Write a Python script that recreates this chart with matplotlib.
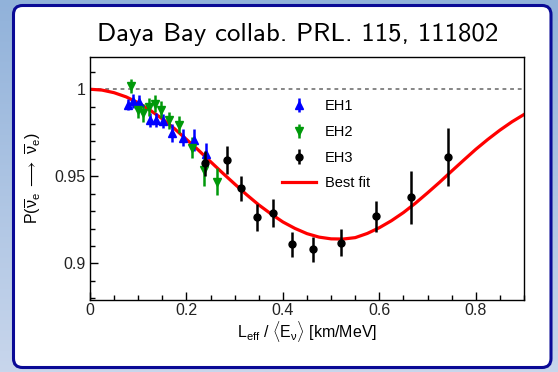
import numpy as np
import matplotlib
matplotlib.use('Agg')
import matplotlib.pyplot as plt
from matplotlib.patches import FancyBboxPatch
from matplotlib.ticker import MultipleLocator, FuncFormatter

plt.rcParams['font.family'] = ['Liberation Sans', 'DejaVu Sans']
plt.rcParams['mathtext.fontset'] = 'custom'
plt.rcParams['mathtext.rm'] = 'Liberation Sans'
plt.rcParams['mathtext.it'] = 'Liberation Sans:italic'

# EH1 (blue)
eh1_x = [0.078, 0.090, 0.102, 0.1245, 0.137, 0.151, 0.1695, 0.1936, 0.2164, 0.241]
eh1_y = [0.9912, 0.9933, 0.9927, 0.9822, 0.9826, 0.9816, 0.9749, 0.9722, 0.9707, 0.9626]
eh1_err = [0.003, 0.004, 0.004, 0.004, 0.004, 0.004, 0.005, 0.005, 0.0064, 0.0065]

# EH2 (green)
eh2_x = [0.0844, 0.100, 0.1106, 0.123, 0.135, 0.147, 0.1645, 0.1846, 0.211, 0.2355, 0.263]
eh2_y = [1.0017, 0.9883, 0.9864, 0.9898, 0.9918, 0.9883, 0.9822, 0.9797, 0.9665, 0.9534, 0.947]
eh2_err = [0.004, 0.005, 0.005, 0.005, 0.005, 0.005, 0.005, 0.005, 0.006, 0.009, 0.008]

# EH3 (black)
eh3_x = [0.2386, 0.284, 0.313, 0.346, 0.380, 0.419, 0.463, 0.521, 0.593, 0.666, 0.743]
eh3_y = [0.9575, 0.9592, 0.9431, 0.9264, 0.9287, 0.9109, 0.908, 0.912, 0.927, 0.938, 0.961]
eh3_err = [0.0072, 0.008, 0.007, 0.0077, 0.008, 0.0072, 0.0072, 0.0077, 0.009, 0.0153, 0.0168]

# best fit curve
fit_x = [0, 0.025, 0.05, 0.075, 0.1, 0.125, 0.15, 0.175, 0.2, 0.225, 0.25, 0.275,
         0.3, 0.325, 0.35, 0.375, 0.4, 0.425, 0.45, 0.475, 0.5, 0.525, 0.55, 0.575,
         0.6, 0.625, 0.65, 0.675, 0.7, 0.725, 0.75, 0.775, 0.8, 0.825, 0.85, 0.875, 0.9]
fit_y = [1.0, 0.9995, 0.998, 0.9956, 0.9922, 0.9879, 0.983, 0.9774, 0.9712, 0.965,
         0.9584, 0.9519, 0.9456, 0.9394, 0.9336, 0.9285, 0.9238, 0.9201, 0.9171, 0.9151,
         0.9141, 0.914, 0.9148, 0.9172, 0.9205, 0.9245, 0.9292, 0.9346, 0.9405, 0.9466,
         0.953, 0.9593, 0.9655, 0.9712, 0.9765, 0.9813, 0.9855]

fig = plt.figure(figsize=(5.58, 3.72), dpi=100)

# beamer-like background
bg = fig.add_axes([0, 0, 1, 1])
grad = np.linspace(0, 1, 256).reshape(-1, 1)
top_c = np.array([145, 178, 218]) / 255
bot_c = np.array([200, 214, 236]) / 255
img = top_c + (bot_c - top_c) * grad[:, :, None]
bg.imshow(img, aspect='auto', extent=[0, 558, 372, 0])
bg.add_patch(FancyBboxPatch((13.5, 5.5), 537.5, 362, boxstyle='round,pad=0,rounding_size=9',
                            facecolor='white', edgecolor='#0a0a96', linewidth=2.2))
bg.set_xlim(0, 558)
bg.set_ylim(372, 0)
bg.axis('off')

fig.text(0.533, 0.906, 'Daya Bay collab. PRL. 115, 111802', family='cmss10',
         fontsize=19.3, ha='center', va='center', color='black')

ax = fig.add_axes([90 / 558, 72 / 372, 434 / 558, 243 / 372])

ax.axhline(1.0, color='#666666', lw=1.1, ls=(0, (2.5, 2.5)), zorder=1)
ax.plot(fit_x, fit_y, color='red', lw=2.3, label='Best fit', zorder=2)

ax.errorbar(eh1_x, eh1_y, yerr=eh1_err, fmt='^', color='blue', ms=5.5, elinewidth=1.8,
            capsize=0, label='EH1', zorder=3)
ax.errorbar(eh2_x, eh2_y, yerr=eh2_err, fmt='v', color='#00990a', ms=5.5, elinewidth=1.8,
            capsize=0, label='EH2', zorder=3)
ax.errorbar(eh3_x, eh3_y, yerr=eh3_err, fmt='o', color='black', ms=5, elinewidth=1.8,
            capsize=0, label='EH3', zorder=4)

ax.set_xlim(0, 0.9)
ax.set_ylim(0.879, 1.0185)
ax.xaxis.set_major_locator(MultipleLocator(0.2))
ax.xaxis.set_minor_locator(MultipleLocator(0.05))
ax.yaxis.set_major_locator(MultipleLocator(0.05))
ax.yaxis.set_minor_locator(MultipleLocator(0.01))
ax.xaxis.set_major_formatter(FuncFormatter(lambda v, p: '%g' % round(v, 3)))
ax.yaxis.set_major_formatter(FuncFormatter(lambda v, p: '%g' % round(v, 3)))
ax.tick_params(which='both', direction='in', top=False, right=False, labelsize=11.5,
               colors='black', labelcolor='#222222')
ax.tick_params(which='major', length=6, width=1)
ax.tick_params(which='minor', length=3.5, width=1)
ax.tick_params(axis='x', pad=2.5)
for s in ax.spines.values():
    s.set_linewidth(1)

ax.set_xlabel(r'L$_{\rm eff}$ / $\langle$E$_{\mathrm{\nu}}\rangle$ [km/MeV]',
              fontsize=11.5, labelpad=0.5)
ax.set_ylabel(r'P($\overline{\mathrm{\nu}}_{\rm e}$ $\longrightarrow$ '
              r'$\overline{\mathrm{\nu}}_{\rm e}$)', fontsize=11.5, labelpad=8)

h, l = ax.get_legend_handles_labels()
order = [1, 2, 3, 0]
ax.legend([h[i] for i in order], [l[i] for i in order], loc='upper left',
          bbox_to_anchor=(0.43, 0.85), frameon=False, fontsize=10.5,
          handlelength=2.3, handletextpad=0.6, labelspacing=0.8, borderaxespad=0)

fig.savefig('out.png', dpi=100)
